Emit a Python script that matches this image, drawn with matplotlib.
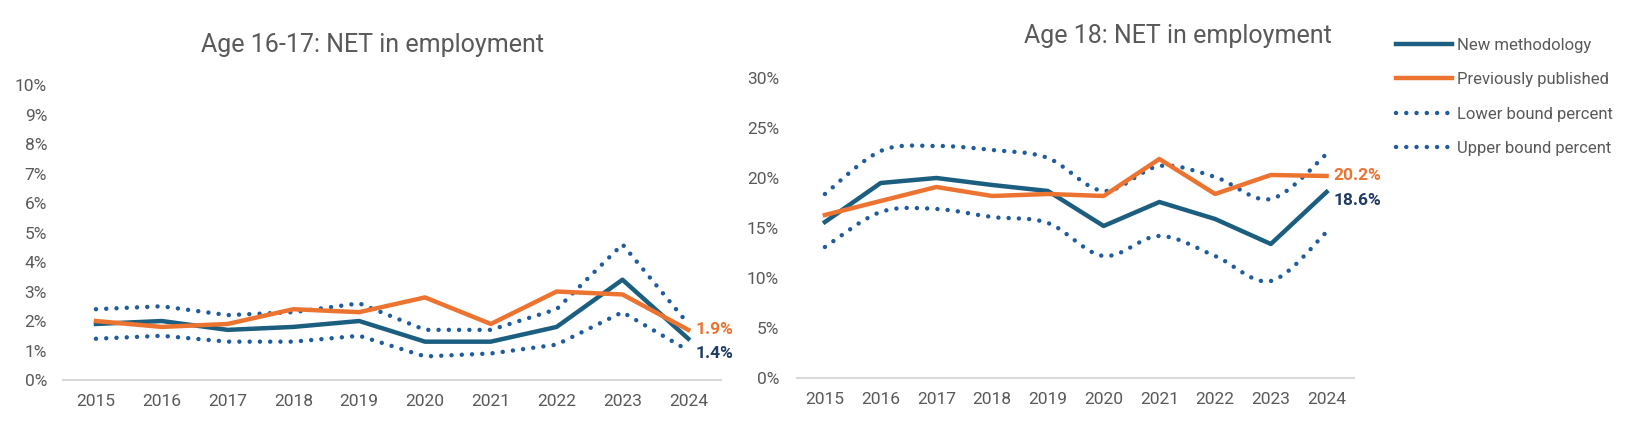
import numpy as np
import matplotlib
matplotlib.use("Agg")
import matplotlib.pyplot as plt
from matplotlib.path import Path
from matplotlib.patches import PathPatch
from matplotlib.lines import Line2D
from matplotlib.ticker import PercentFormatter

plt.rcParams['font.family'] = ['Roboto', 'DejaVu Sans']

years = [2015, 2016, 2017, 2018, 2019, 2020, 2021, 2022, 2023, 2024]

# Age 16-17 (percent)
new_1617 = [1.9, 2.0, 1.7, 1.8, 2.0, 1.3, 1.3, 1.8, 3.4, 1.4]
prev_1617 = [2.0, 1.8, 1.9, 2.4, 2.3, 2.8, 1.9, 3.0, 2.9, 1.7]
lower_1617 = [1.4, 1.5, 1.3, 1.3, 1.5, 0.8, 0.9, 1.2, 2.3, 1.0]
upper_1617 = [2.4, 2.5, 2.2, 2.3, 2.6, 1.7, 1.7, 2.4, 4.6, 1.9]
labels_1617 = ['1.9%', '1.4%']

# Age 18 (percent)
new_18 = [15.6, 19.5, 20.0, 19.3, 18.7, 15.2, 17.6, 15.9, 13.4, 18.6]
prev_18 = [16.3, 17.7, 19.1, 18.2, 18.4, 18.2, 21.9, 18.4, 20.3, 20.2]
lower_18 = [13.1, 16.6, 16.9, 16.1, 15.5, 12.2, 14.2, 12.2, 9.7, 14.6]
upper_18 = [18.4, 22.7, 23.2, 22.8, 22.0, 18.7, 21.2, 20.1, 17.9, 22.4]
labels_18 = ['20.2%', '18.6%']

teal = '#1B5E7F'
orange = '#EC7430'
dotblue = '#1F5C9E'
navy = '#1F3B63'
grey = '#595959'

dots = (0, (0.01, 2.3))


def smooth_path(x, y):
    # Catmull-Rom style bezier through the data points (like Excel smoothed lines)
    x = np.asarray(x, float)
    y = np.asarray(y, float)
    n = len(x)
    verts = [(x[0], y[0])]
    codes = [Path.MOVETO]
    for i in range(n - 1):
        p0 = max(i - 1, 0)
        p3 = min(i + 2, n - 1)
        c1 = (x[i] + (x[i + 1] - x[p0]) / 6, y[i] + (y[i + 1] - y[p0]) / 6)
        c2 = (x[i + 1] - (x[p3] - x[i]) / 6, y[i + 1] - (y[p3] - y[i]) / 6)
        verts += [c1, c2, (x[i + 1], y[i + 1])]
        codes += [Path.CURVE4] * 3
    return Path(verts, codes)


def style(ax, ymax, step, ypad):
    for s in ['top', 'right', 'left']:
        ax.spines[s].set_visible(False)
    ax.spines['bottom'].set_color('#D9D9D9')
    ax.spines['bottom'].set_linewidth(1.5)
    ax.set_xlim(years[0] - 0.5, years[-1] + 0.5)
    ax.set_ylim(0, ymax)
    ax.set_yticks(np.arange(0, ymax + 0.01, step))
    ax.yaxis.set_major_formatter(PercentFormatter(decimals=0))
    ax.set_xticks(years)
    ax.tick_params(length=0, labelsize=12.5, colors=grey)
    ax.tick_params(axis='x', pad=10)
    ax.tick_params(axis='y', pad=ypad)


fig = plt.figure(figsize=(16.25, 4.28), dpi=100)

ax1 = fig.add_axes([0.0388, 0.1121, 0.405, 0.6893])
ax1.plot(years, upper_1617, color=dotblue, lw=3.2, ls=dots, dash_capstyle='round')
ax1.plot(years, lower_1617, color=dotblue, lw=3.2, ls=dots, dash_capstyle='round')
ax1.plot(years, new_1617, color=teal, lw=3.2)
ax1.plot(years, prev_1617, color=orange, lw=3.2)
style(ax1, 10, 1, 11.5)
ax1.annotate(labels_1617[0], (years[-1], prev_1617[-1]), xytext=(5, 0), textcoords='offset points',
             color=orange, fontsize=12.5, fontweight='bold', va='center')
ax1.annotate(labels_1617[1], (years[-1], new_1617[-1]), xytext=(5, -11), textcoords='offset points',
             color=navy, fontsize=12.5, fontweight='bold', va='center')
fig.text(0.229, 0.895, 'Age 16-17: NET in employment', ha='center', va='center', fontsize=18, color=grey)

ax2 = fig.add_axes([0.4905, 0.1168, 0.343, 0.701])
for b in (upper_18, lower_18):
    ax2.add_patch(PathPatch(smooth_path(years, b), fill=False, edgecolor=dotblue, lw=3.2,
                            ls=dots, capstyle='round'))
ax2.plot(years, new_18, color=teal, lw=3.2)
ax2.plot(years, prev_18, color=orange, lw=3.2)
style(ax2, 30, 5, 13)
ax2.annotate(labels_18[0], (years[-1], prev_18[-1]), xytext=(5, 0), textcoords='offset points',
             color=orange, fontsize=12.5, fontweight='bold', va='center')
ax2.annotate(labels_18[1], (years[-1], new_18[-1]), xytext=(5, -6), textcoords='offset points',
             color=navy, fontsize=12.5, fontweight='bold', va='center')
fig.text(0.725, 0.915, 'Age 18: NET in employment', ha='center', va='center', fontsize=18, color=grey)

handles = [Line2D([], [], color=teal, lw=3.2),
           Line2D([], [], color=orange, lw=3.2),
           Line2D([], [], color=dotblue, lw=3.2, ls=dots, dash_capstyle='round'),
           Line2D([], [], color=dotblue, lw=3.2, ls=dots, dash_capstyle='round')]
names = ['New methodology', 'Previously published', 'Lower bound percent', 'Upper bound percent']
fig.legend(handles, names, loc='upper left', bbox_to_anchor=(0.859, 0.912), frameon=False,
           borderaxespad=0, borderpad=0, fontsize=12, labelcolor=grey,
           handlelength=3.35, handletextpad=0.3, labelspacing=1.17)

fig.savefig('out.png', dpi=100)
